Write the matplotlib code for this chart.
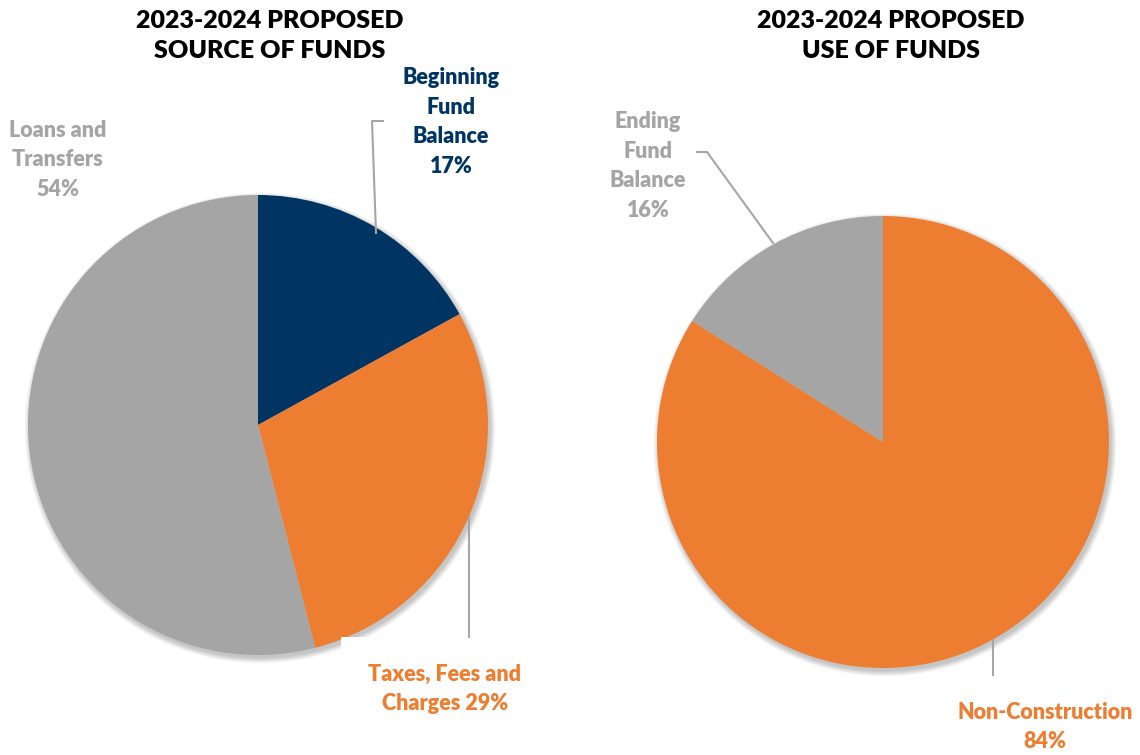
import matplotlib
matplotlib.use("Agg")
import matplotlib.pyplot as plt
from matplotlib.patches import Circle, Rectangle

# ---- data ----
source_labels = ["Beginning\nFund\nBalance", "Taxes, Fees and\nCharges", "Loans and\nTransfers"]
source_values = [17, 29, 54]
use_labels = ["Non-Construction", "Ending\nFund\nBalance"]
use_values = [84, 16]
titles = ["2023-2024 PROPOSED\nSOURCE OF FUNDS", "2023-2024 PROPOSED\nUSE OF FUNDS"]

NAVY = "#003462"
ORANGE = "#ED7D31"
GRAY = "#A5A5A5"
LINE = "#A6A6A6"
source_colors = [NAVY, ORANGE, GRAY]
use_colors = [ORANGE, GRAY]

plt.rcParams['font.family'] = ['Lato', 'DejaVu Sans']

W, H = 1140, 755
fig = plt.figure(figsize=(W / 100, H / 100), dpi=100)
ax = fig.add_axes([0, 0, 1, 1])

def Y(y):  # pixel from top -> data y
    return H - y

def shadow(cx, cy, r):
    for i in range(10):
        ax.add_patch(Circle((cx + 2, cy - 3), r + 0.6 * i, color='black',
                            alpha=0.022, lw=0, zorder=0.5))

# left pie
lc, lr = (258, Y(425)), 230
shadow(*lc, lr)
ax.pie(source_values, colors=source_colors, startangle=90, counterclock=False,
       center=lc, radius=lr, wedgeprops=dict(linewidth=0, zorder=1), frame=True)

# right pie
rc, rr = (883, Y(442)), 226
shadow(*rc, rr)
ax.pie(use_values, colors=use_colors, startangle=90, counterclock=False,
       center=rc, radius=rr, wedgeprops=dict(linewidth=0, zorder=1), frame=True)

ax.set_xlim(0, W)
ax.set_ylim(0, H)
ax.set_aspect('equal')
ax.axis('off')

# titles
tfs = 18
ax.text(270, Y(36), titles[0], ha='center', va='center', fontsize=tfs,
        fontweight='heavy', color='black', linespacing=1.4)
ax.text(891, Y(36), titles[1], ha='center', va='center', fontsize=tfs,
        fontweight='heavy', color='black', linespacing=1.4)

lfs = 15.5
ls = 1.5
# white label box for taxes
ax.add_patch(Rectangle((341, Y(745)), 210, 108, facecolor='white',
                       edgecolor='none', zorder=3))

# leader lines
ax.plot([383, 372, 376], [Y(121), Y(121), Y(233)], color=LINE, lw=1.5, zorder=4)
ax.plot([469, 469], [Y(517), Y(637)], color=LINE, lw=1.5, zorder=4)
ax.plot([697, 707, 773], [Y(152), Y(152), Y(243)], color=LINE, lw=1.5, zorder=4)
ax.plot([993, 993], [Y(640), Y(675)], color=LINE, lw=1.5, zorder=4)

# labels
kw = dict(ha='center', va='center', fontsize=lfs, fontweight='heavy', linespacing=ls, zorder=5)
ax.text(451, Y(122), f"{source_labels[0]}\n{source_values[0]}%", color=NAVY, **kw)
ax.text(445, Y(689), f"{source_labels[1]} {source_values[1]}%", color=ORANGE, **kw)
ax.text(58, Y(160), f"{source_labels[2]}\n{source_values[2]}%", color=GRAY, **kw)
ax.text(1045, Y(727), f"{use_labels[0]}\n{use_values[0]}%", color=ORANGE, **kw)
ax.text(648, Y(166), f"{use_labels[1]}\n{use_values[1]}%", color=GRAY, **kw)

fig.savefig("out.png", dpi=100, facecolor='white')
